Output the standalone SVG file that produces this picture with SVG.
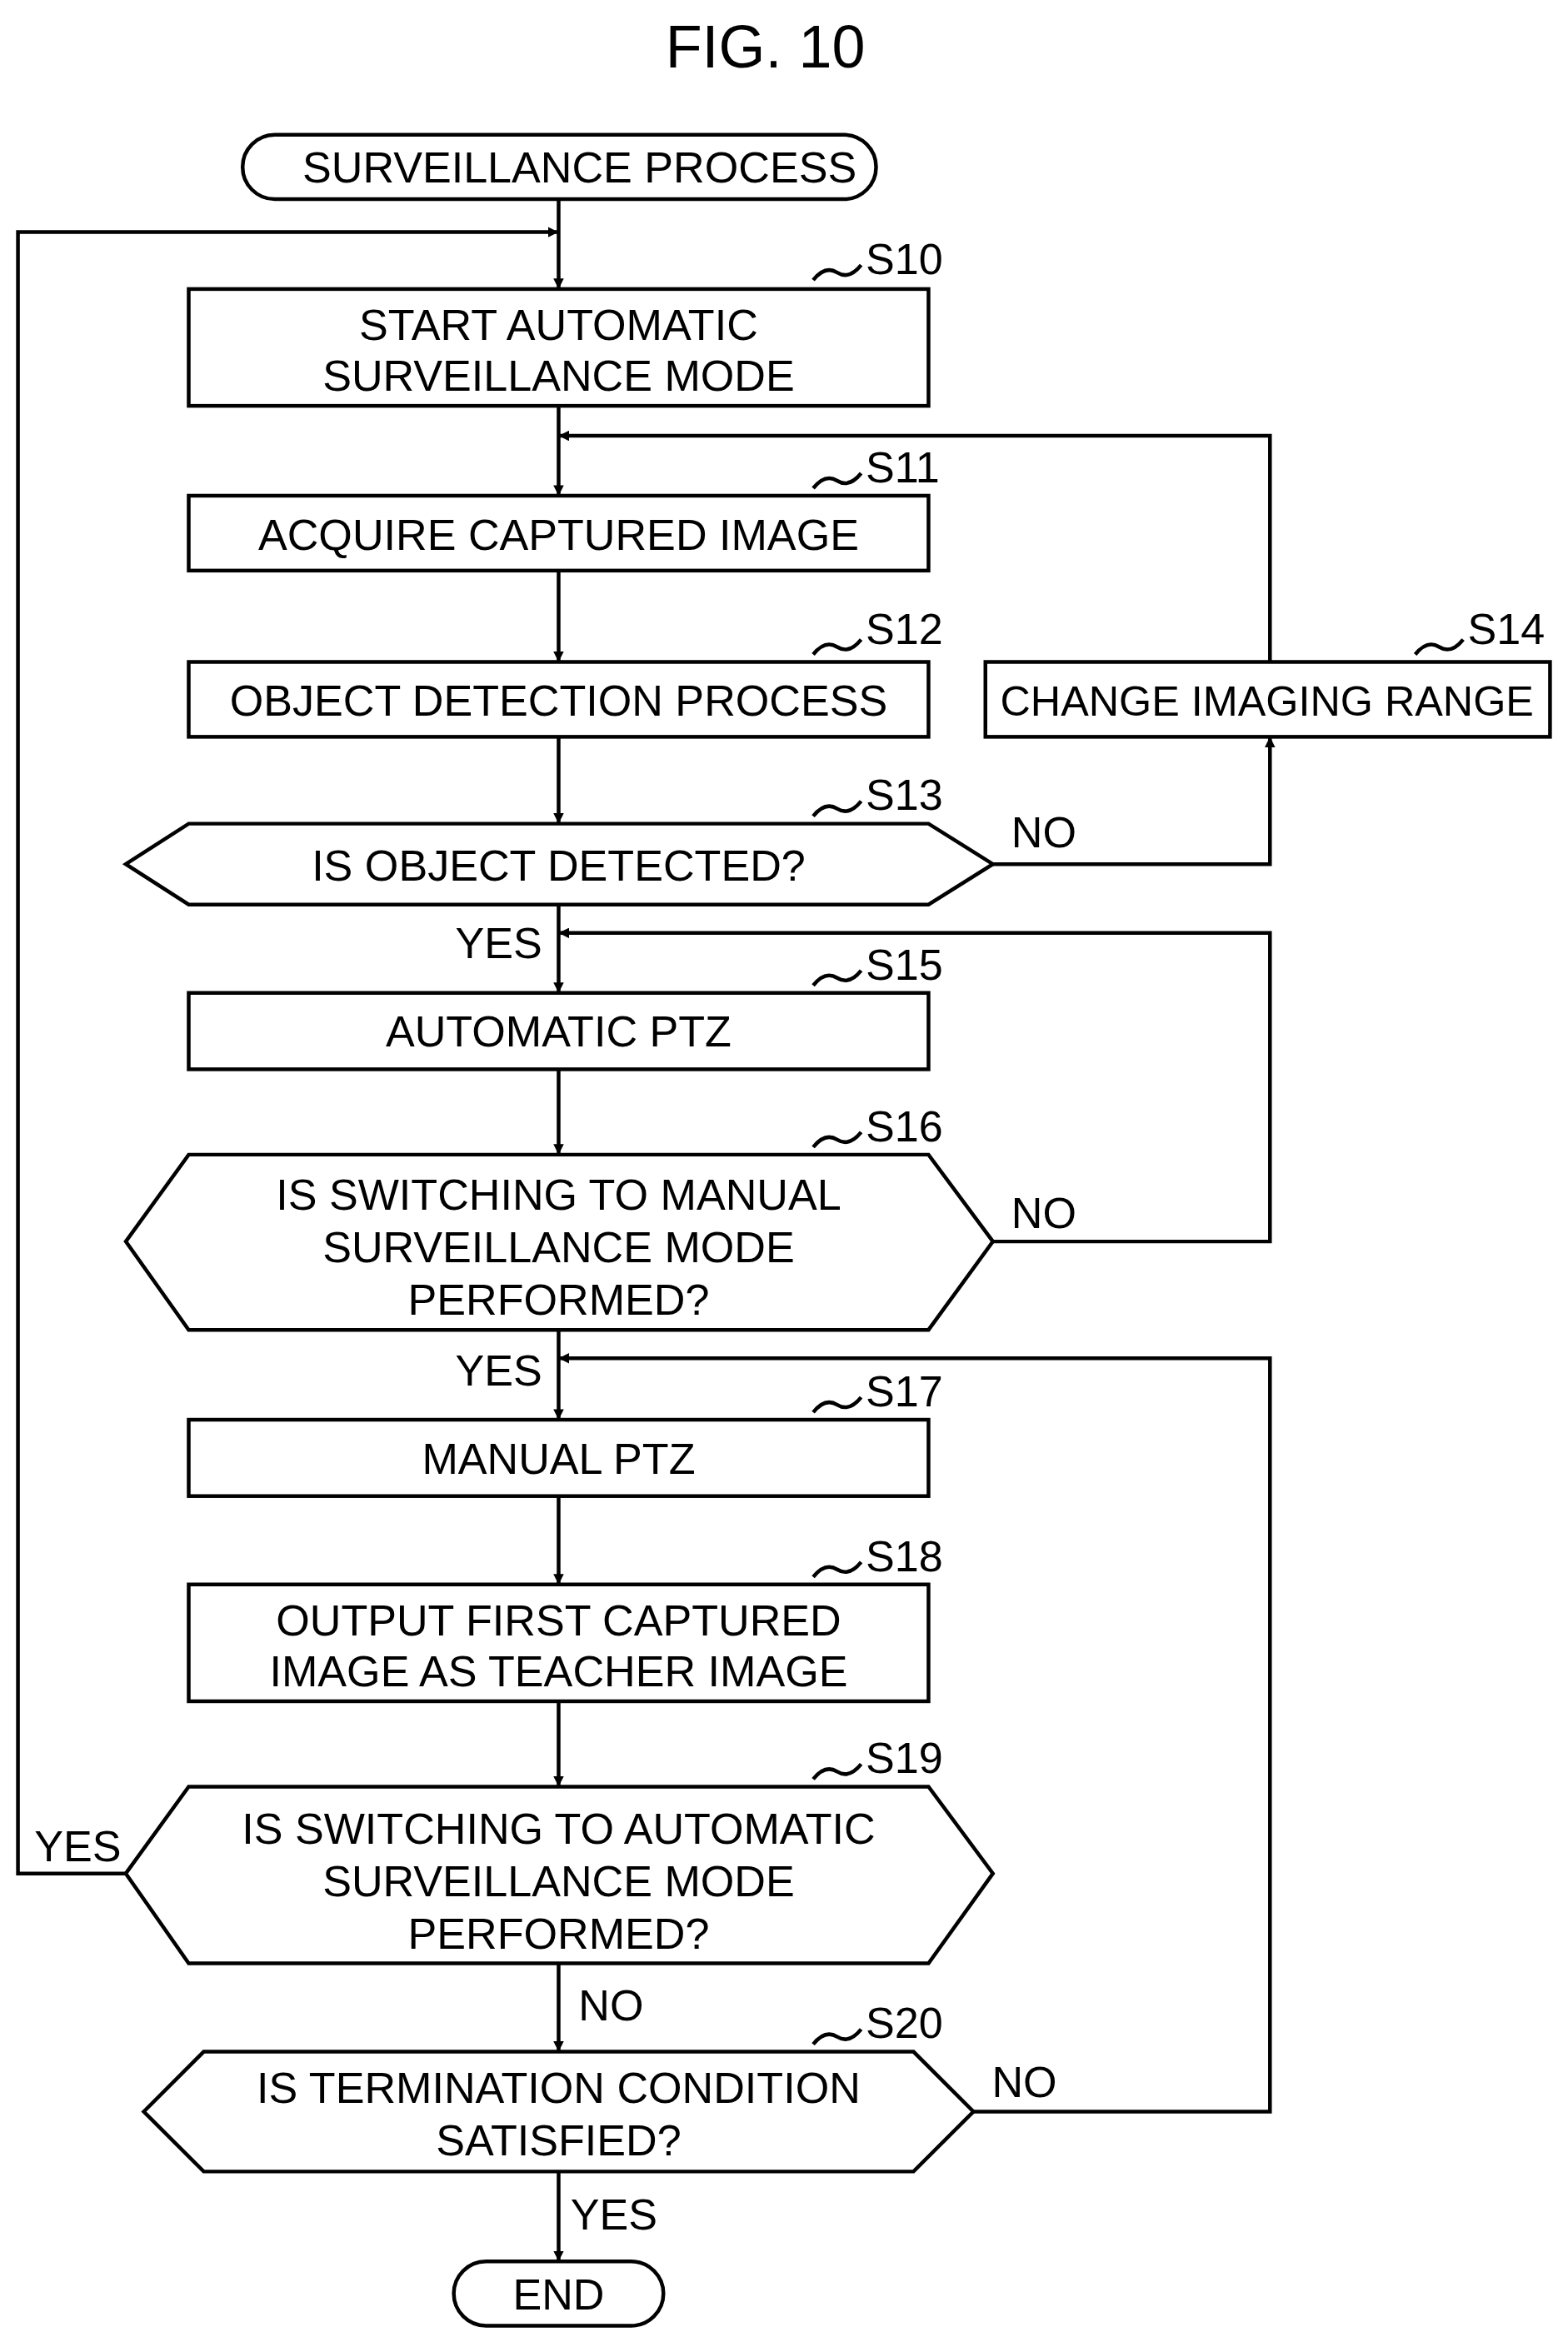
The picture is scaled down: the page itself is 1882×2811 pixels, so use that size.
<svg xmlns="http://www.w3.org/2000/svg" width="1882" height="2811" viewBox="0 0 1882 2811">
<defs>
<marker id="ah" viewBox="0 0 10 10" refX="10" refY="5" markerWidth="7" markerHeight="7" markerUnits="userSpaceOnUse" orient="auto"><path d="M0,0 L10,5 L0,10 Z" fill="#000"/></marker>
<style>
.s{fill:#fff;stroke:#000;stroke-width:2.5}
.l{fill:none;stroke:#000;stroke-width:2.5}
.a{fill:none;stroke:#000;stroke-width:2.5;marker-end:url(#ah)}
text{font-family:"Liberation Sans",Arial,sans-serif;font-size:29px;fill:#000;text-anchor:middle}
.lb{text-anchor:start}
</style>
</defs>
<rect width="1882" height="2811" fill="#fff"/>
<g transform="scale(1.7975)">
<text x="511" y="45" style="font-size:40px">FIG. 10</text>
<g id="start"><rect class="s" x="162" y="90" width="423" height="43" rx="21.5"/><text x="387" y="122">SURVEILLANCE PROCESS</text></g>
<g id="connectors">
<path class="a" d="M373,133 V193"/>
<path class="a" d="M84,1251 H12 V155 H373"/>
<path class="a" d="M373,271 V331"/>
<path class="a" d="M373,381 V442"/>
<path class="a" d="M373,492 V550"/>
<path class="a" d="M663,577 H848 V492"/>
<path class="a" d="M848,442 V291 H373"/>
<path class="a" d="M373,604 V663"/>
<path class="a" d="M663,829 H848 V623 H373"/>
<path class="a" d="M373,714 V771"/>
<path class="a" d="M373,888 V948"/>
<path class="a" d="M650,1410 H848 V907 H373"/>
<path class="a" d="M373,999 V1058"/>
<path class="a" d="M373,1136 V1193"/>
<path class="a" d="M373,1311 V1370"/>
<path class="a" d="M373,1450 V1510"/>
<text x="333" y="640">YES</text><text x="697" y="566">NO</text>
<text x="333" y="925">YES</text><text x="697" y="820">NO</text>
<text x="52" y="1243">YES</text><text x="408" y="1349">NO</text>
<text x="684" y="1400">NO</text><text x="410" y="1489">YES</text>
</g>
<g id="S10"><rect class="s" x="126" y="193" width="494" height="78"/><text x="373" y="227">START AUTOMATIC</text><text x="373" y="261">SURVEILLANCE MODE</text><path class="l" d="M543,187 q8,-10 16,-5 t16,-5"/><text class="lb" x="578" y="183">S10</text></g>
<g id="S11"><rect class="s" x="126" y="331" width="494" height="50"/><text x="373" y="367">ACQUIRE CAPTURED IMAGE</text><path class="l" d="M543,326 q8,-10 16,-5 t16,-5"/><text class="lb" x="578" y="322">S11</text></g>
<g id="S12"><rect class="s" x="126" y="442" width="494" height="50"/><text x="373" y="478">OBJECT DETECTION PROCESS</text><path class="l" d="M543,437 q8,-10 16,-5 t16,-5"/><text class="lb" x="578" y="430">S12</text></g>
<g id="S14"><rect class="s" x="658" y="442" width="377" height="50"/><text x="846" y="478" style="font-size:28px">CHANGE IMAGING RANGE</text><path class="l" d="M945,437 q8,-10 16,-5 t16,-5"/><text class="lb" x="980" y="430">S14</text></g>
<g id="S13"><polygon class="s" points="84,577 126,550 620,550 663,577 620,604 126,604"/><text x="373" y="588">IS OBJECT DETECTED?</text><path class="l" d="M543,545 q8,-10 16,-5 t16,-5"/><text class="lb" x="578" y="541">S13</text></g>
<g id="S15"><rect class="s" x="126" y="663" width="494" height="51"/><text x="373" y="699">AUTOMATIC PTZ</text><path class="l" d="M543,658 q8,-10 16,-5 t16,-5"/><text class="lb" x="578" y="654">S15</text></g>
<g id="S16"><polygon class="s" points="84,829 126,771 620,771 663,829 620,888 126,888"/><text x="373" y="808">IS SWITCHING TO MANUAL</text><text x="373" y="843">SURVEILLANCE MODE</text><text x="373" y="878">PERFORMED?</text><path class="l" d="M543,766 q8,-10 16,-5 t16,-5"/><text class="lb" x="578" y="762">S16</text></g>
<g id="S17"><rect class="s" x="126" y="948" width="494" height="51"/><text x="373" y="984">MANUAL PTZ</text><path class="l" d="M543,943 q8,-10 16,-5 t16,-5"/><text class="lb" x="578" y="939">S17</text></g>
<g id="S18"><rect class="s" x="126" y="1058" width="494" height="78"/><text x="373" y="1092">OUTPUT FIRST CAPTURED</text><text x="373" y="1126">IMAGE AS TEACHER IMAGE</text><path class="l" d="M543,1053 q8,-10 16,-5 t16,-5"/><text class="lb" x="578" y="1049">S18</text></g>
<g id="S19"><polygon class="s" points="84,1251 126,1193 620,1193 663,1251 620,1311 126,1311"/><text x="373" y="1231">IS SWITCHING TO AUTOMATIC</text><text x="373" y="1266">SURVEILLANCE MODE</text><text x="373" y="1301">PERFORMED?</text><path class="l" d="M543,1188 q8,-10 16,-5 t16,-5"/><text class="lb" x="578" y="1184">S19</text></g>
<g id="S20"><polygon class="s" points="96,1410 136,1370 610,1370 650,1410 610,1450 136,1450"/><text x="373" y="1404">IS TERMINATION CONDITION</text><text x="373" y="1439">SATISFIED?</text><path class="l" d="M543,1365 q8,-10 16,-5 t16,-5"/><text class="lb" x="578" y="1361">S20</text></g>
<g id="end"><rect class="s" x="303" y="1510" width="140" height="43" rx="21.5"/><text x="373" y="1542">END</text></g>
</g>
</svg>
